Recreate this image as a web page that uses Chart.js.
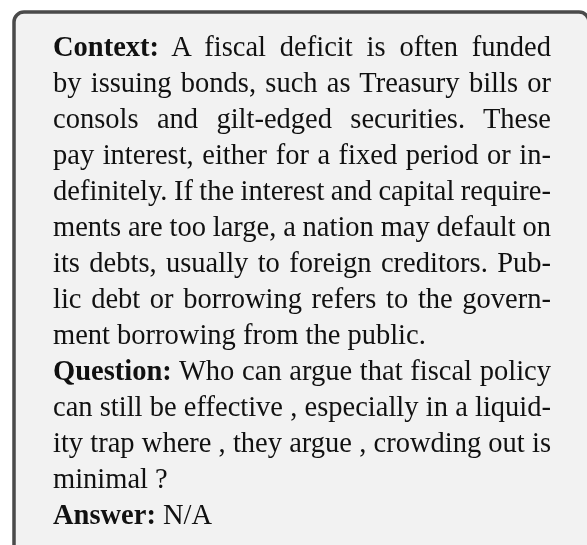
<!DOCTYPE html>
<html>
<head>
<meta charset="utf-8">
<script src="https://cdn.jsdelivr.net/npm/chart.js@4.4.1/dist/chart.umd.min.js"></script>
<style>
  html, body { margin: 0; padding: 0; background: #fff; overflow: hidden; }
  #wrap { position: relative; width: 587px; height: 545px; overflow: hidden; }
  #panel { position: absolute; left: 0; top: 0; }
  #text {
    position: absolute; left: 53px; top: 29px; width: 498px;
    font-family: "Liberation Serif", "Times New Roman", serif;
    font-size: 28.5px; line-height: 36px; color: #111;
  }
  .line { height: 36px; white-space: nowrap; }
  .line span { display: inline-block; white-space: nowrap; }
</style>
</head>
<body>
<div id="wrap">
  <canvas id="panel" width="600" height="570"></canvas>
  <div id="text"></div>
</div>
<script>
// paragraph labels and the broken lines of each paragraph
const labels = ["Context:", "Question:", "Answer:"];
const contextLines = [
  "A fiscal deficit is often funded",
  "by issuing bonds, such as Treasury bills or",
  "consols and gilt-edged securities. These",
  "pay interest, either for a fixed period or in-",
  "definitely. If the interest and capital require-",
  "ments are too large, a nation may default on",
  "its debts, usually to foreign creditors. Pub-",
  "lic debt or borrowing refers to the govern-",
  "ment borrowing from the public."
];
const questionLines = [
  "Who can argue that fiscal policy",
  "can still be effective , especially in a liquid-",
  "ity trap where , they argue , crowding out is",
  "minimal ?"
];
const answerLines = ["N/A"];

const paragraphs = [contextLines, questionLines, answerLines];
const textWidth = 498;

const textBox = document.getElementById("text");
paragraphs.forEach((lines, p) => {
  lines.forEach((txt, i) => {
    const div = document.createElement("div");
    div.className = "line";
    const span = document.createElement("span");
    if (i === 0) {
      const b = document.createElement("b");
      b.textContent = labels[p];
      span.appendChild(b);
      span.appendChild(document.createTextNode(" " + txt));
    } else {
      span.textContent = txt;
    }
    div.appendChild(span);
    textBox.appendChild(div);
    // justify every line but the last of a paragraph, stretching or shrinking spaces
    if (i < lines.length - 1) {
      const gaps = span.textContent.split(" ").length - 1;
      const natural = span.getBoundingClientRect().width;
      span.style.wordSpacing = (textWidth - natural) / gaps + "px";
    }
  });
});

// grey rounded panel drawn on the chart area
const panelPlugin = {
  id: "panel",
  beforeDraw(chart) {
    const { ctx, chartArea } = chart;
    const { left, top, right, bottom } = chartArea;
    ctx.save();
    ctx.beginPath();
    ctx.roundRect(left, top, right - left, bottom - top, 10);
    ctx.fillStyle = "#f2f2f2";
    ctx.fill();
    ctx.lineWidth = 3.5;
    ctx.strokeStyle = "#4a4a4a";
    ctx.stroke();
    ctx.restore();
  },
};

new Chart(document.getElementById("panel"), {
  type: "line",
  data: { labels: [], datasets: [] },
  options: {
    responsive: false,
    animation: false,
    devicePixelRatio: 1,
    layout: { padding: { left: 14, top: 12, right: 11, bottom: 15 } },
    plugins: { legend: { display: false }, tooltip: { enabled: false } },
    scales: { x: { display: false }, y: { display: false } },
  },
  plugins: [panelPlugin],
});
</script>
</body>
</html>
